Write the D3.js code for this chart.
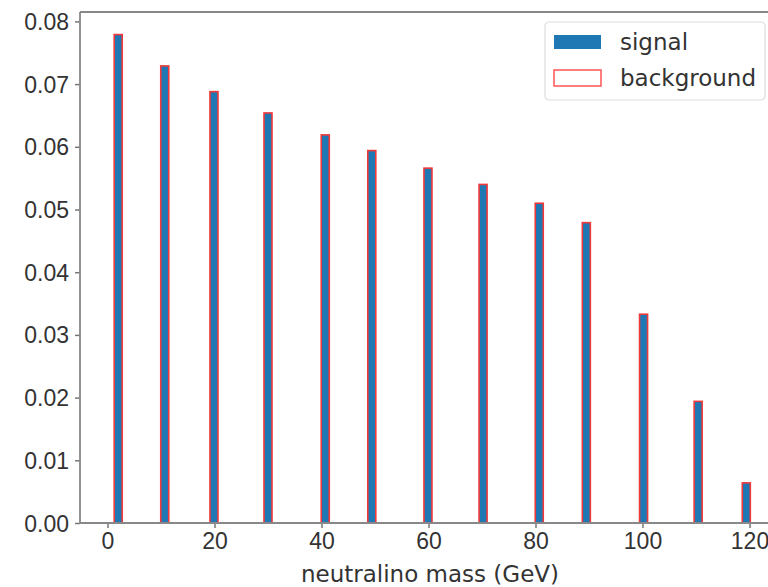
<!DOCTYPE html>
<html>
<head>
<meta charset="utf-8">
<script src="https://cdn.jsdelivr.net/npm/d3@7"></script>
<style>
  body { margin: 0; background: #fff; overflow: hidden; }
  svg { display: block; font-family: "DejaVu Sans", sans-serif; }
</style>
</head>
<body>
<div id="chart"></div>
<script>
// bin centres (GeV)
const masses = [2, 10.7, 19.9, 30, 40.7, 49.4, 59.9, 70.2, 80.7, 89.5, 100.2, 110.4, 119.4];
const signal = [0.0779, 0.0729, 0.0688, 0.0654, 0.0619, 0.0594, 0.0566, 0.0540, 0.0510, 0.0479, 0.0333, 0.0194, 0.0064];
const background = [0.0779, 0.0729, 0.0688, 0.0654, 0.0619, 0.0594, 0.0566, 0.0540, 0.0510, 0.0479, 0.0333, 0.0194, 0.0064];
const xTicks = [0, 20, 40, 60, 80, 100, 120];
const yTicks = [0, 0.01, 0.02, 0.03, 0.04, 0.05, 0.06, 0.07, 0.08];
const binWidth = 1.5;

const width = 768;
const height = 587;
// the axes run off the right edge of the picture
const margin = { top: 12, right: -12, bottom: 64, left: 80 };

const x = d3.scaleLinear()
    .domain([-5.14, 125.7])
    .range([margin.left, width - margin.right]);

const y = d3.scaleLinear()
    .domain([0, 0.0815])
    .range([height - margin.bottom, margin.top]);

const svg = d3.select("#chart").append("svg")
    .attr("width", width)
    .attr("height", height);

// signal bars
svg.append("g").selectAll("rect")
    .data(signal)
    .enter()
    .append("rect")
    .attr("x", (d, i) => x(masses[i] - binWidth / 2))
    .attr("width", x(binWidth) - x(0))
    .attr("y", d => y(d))
    .attr("height", d => y(0) - y(d))
    .attr("fill", "#1f77b4");

// background outline on top
svg.append("g").selectAll("rect")
    .data(background)
    .enter()
    .append("rect")
    .attr("x", (d, i) => x(masses[i] - binWidth / 2))
    .attr("width", x(binWidth) - x(0))
    .attr("y", d => y(d))
    .attr("height", d => y(0) - y(d))
    .attr("fill", "none")
    .attr("stroke", "#f03a3a")
    .attr("stroke-width", 1.6);

// axes
const xAxis = svg.append("g")
    .attr("transform", `translate(0,${height - margin.bottom})`)
    .call(d3.axisBottom(x).tickValues(xTicks).tickFormat(d3.format("d")).tickSize(5).tickPadding(5));

const yAxis = svg.append("g")
    .attr("transform", `translate(${margin.left},0)`)
    .call(d3.axisLeft(y).tickValues(yTicks).tickFormat(d3.format(".2f")).tickSize(5).tickPadding(6));

[xAxis, yAxis].forEach(a => {
    a.select(".domain").remove();
    a.selectAll("line").attr("stroke", "#777").attr("stroke-width", 1.5);
    a.selectAll("text").attr("fill", "#333").style("font-size", "23px");
});
yAxis.selectAll("text").attr("dy", "0.35em");

// spines
svg.append("path")
    .attr("d", `M${margin.left},${margin.top}V${height - margin.bottom}H${width}`)
    .attr("fill", "none")
    .attr("stroke", "#888")
    .attr("stroke-width", 1.8);
svg.append("line")
    .attr("x1", margin.left).attr("x2", width)
    .attr("y1", margin.top).attr("y2", margin.top)
    .attr("stroke", "#888")
    .attr("stroke-width", 1.8);

// x label
svg.append("text")
    .attr("x", (margin.left + width - margin.right) / 2)
    .attr("y", 582)
    .attr("text-anchor", "middle")
    .attr("fill", "#333")
    .style("font-size", "23px")
    .text("neutralino mass (GeV)");

// legend
const legend = svg.append("g").attr("transform", "translate(545,22)");
legend.append("rect")
    .attr("width", 220).attr("height", 78)
    .attr("rx", 4)
    .attr("fill", "#fff")
    .attr("stroke", "#ddd")
    .attr("stroke-width", 1.2);
legend.append("rect")
    .attr("x", 9).attr("y", 13).attr("width", 47).attr("height", 14)
    .attr("fill", "#1f77b4");
legend.append("rect")
    .attr("x", 9).attr("y", 48).attr("width", 47).attr("height", 16)
    .attr("fill", "#fff")
    .attr("stroke", "#f55")
    .attr("stroke-width", 1.5);
legend.append("text")
    .attr("x", 75).attr("y", 28)
    .attr("fill", "#333")
    .style("font-size", "23px")
    .text("signal");
legend.append("text")
    .attr("x", 75).attr("y", 64)
    .attr("fill", "#333")
    .style("font-size", "23px")
    .text("background");
</script>
</body>
</html>
